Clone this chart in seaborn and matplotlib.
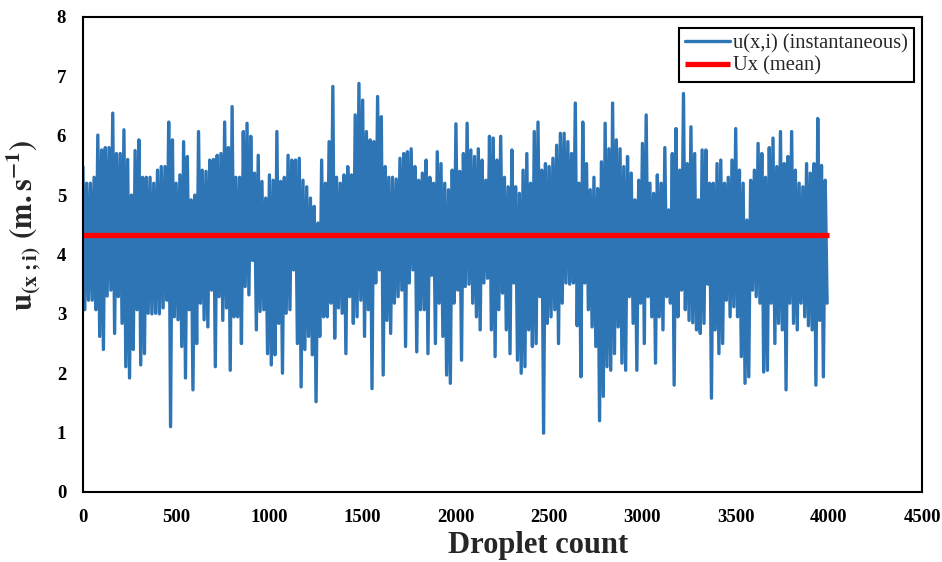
import matplotlib
matplotlib.use("Agg")
import matplotlib.pyplot as plt
from matplotlib.ticker import MultipleLocator
import numpy as np
import pandas as pd
import seaborn as sns

# highest / lowest u(x,i) in each block of 20 droplets (m/s)
u_high = [5.48, 5.2, 5.2, 5.3, 6.01, 5.76, 5.8, 5.8, 6.38, 5.7,
          5.7, 6.1, 5.6, 5.0, 5.75, 5.93, 5.3, 5.3, 5.3, 5.2,
          5.42, 5.48, 5.48, 6.23, 5.93, 5.2, 5.34, 5.9, 5.65, 4.92,
          5.0, 6.07, 5.42, 5.4, 5.59, 5.6, 5.67, 5.7, 6.23, 5.8,
          6.49, 5.3, 5.3, 6.07, 6.21, 5.99, 5.37, 5.67, 5.23, 4.95,
          5.34, 5.25, 6.07, 5.23, 5.3, 5.67, 5.59, 5.59, 5.62, 5.25,
          5.14, 4.95, 4.81, 4.53, 5.59, 5.2, 5.9, 6.83, 5.3, 5.2,
          5.34, 5.48, 5.34, 6.35, 6.88, 6.6, 6.07, 5.93, 5.9, 6.66,
          6.32, 5.48, 5.3, 5.3, 5.27, 5.62, 5.7, 5.73, 5.78, 5.48,
          5.25, 5.37, 5.59, 5.3, 5.2, 5.73, 5.53, 5.2, 5.09, 5.42,
          6.2, 5.4, 5.7, 6.21, 5.76, 5.65, 5.78, 5.59, 5.25, 5.99,
          5.96, 5.59, 5.99, 5.3, 5.14, 5.76, 5.14, 5.03, 5.42, 5.7,
          5.2, 6.07, 6.23, 5.42, 5.53, 5.48, 5.62, 5.84, 6.04, 6.04,
          5.9, 5.7, 6.55, 5.2, 6.23, 5.53, 5.09, 5.3, 5.11, 5.56,
          6.21, 5.78, 6.55, 5.93, 5.78, 5.48, 5.65, 5.37, 4.92, 5.25,
          5.87, 6.35, 5.2, 5.03, 5.34, 5.2, 5.8, 4.75, 5.7, 6.12,
          5.42, 6.71, 5.53, 6.15, 5.7, 4.92, 5.76, 5.76, 5.2, 5.2,
          5.53, 5.59, 5.2, 5.3, 5.59, 6.12, 5.42, 5.2, 4.58, 5.25,
          5.42, 5.87, 5.7, 5.3, 5.8, 5.96, 5.48, 6.07, 5.53, 5.65,
          6.07, 5.42, 5.2, 5.14, 5.53, 5.37, 5.53, 6.29, 5.5, 5.25]

u_low = [3.07, 3.23, 3.23, 3.07, 2.62, 2.4, 3.3, 3.4, 2.67, 3.29,
         2.84, 2.11, 1.92, 2.4, 3.07, 2.14, 2.33, 3.01, 3.0, 3.01,
         3.0, 3.1, 3.23, 1.1, 2.95, 2.9, 2.45, 1.92, 3.07, 1.72,
         2.5, 3.18, 2.9, 2.78, 3.4, 2.11, 3.29, 2.89, 3.1, 2.05,
         2.95, 2.95, 2.5, 3.46, 3.32, 3.9, 2.73, 3.04, 3.07, 2.33,
         2.14, 2.31, 2.84, 2.0, 3.01, 3.07, 3.74, 2.5, 1.77, 2.4,
         2.62, 2.31, 1.52, 2.62, 2.95, 2.95, 3.18, 2.59, 3.1, 3.01,
         2.33, 3.29, 2.84, 2.95, 3.23, 2.62, 3.07, 1.74, 3.52, 3.74,
         1.97, 2.89, 2.67, 3.18, 3.29, 3.4, 2.45, 3.52, 3.74, 2.36,
         3.07, 3.07, 2.33, 3.65, 2.5, 3.18, 2.62, 1.97, 1.83, 3.18,
         3.4, 2.22, 3.46, 3.5, 3.18, 2.95, 2.73, 3.52, 3.6, 2.73,
         2.28, 3.07, 3.35, 2.73, 2.33, 3.52, 2.22, 2.0, 2.11, 2.73,
         2.45, 2.5, 3.29, 0.99, 2.84, 2.95, 3.07, 2.5, 3.18, 3.52,
         3.5, 3.52, 2.8, 1.94, 3.52, 3.07, 2.78, 2.45, 1.2, 1.61,
         2.11, 2.05, 2.33, 2.78, 2.17, 2.05, 3.29, 2.84, 2.05, 3.18,
         2.5, 3.29, 2.95, 2.17, 2.95, 2.73, 3.29, 3.18, 1.8, 2.95,
         3.4, 3.07, 2.89, 2.85, 2.73, 2.67, 2.84, 3.5, 1.58, 2.73,
         2.33, 2.5, 3.23, 2.95, 3.12, 2.95, 2.28, 1.83, 1.94, 3.4,
         3.29, 3.18, 2.02, 2.05, 3.18, 2.5, 2.84, 2.73, 1.72, 3.18,
         2.84, 2.73, 3.18, 2.95, 2.8, 2.73, 1.8, 2.89, 1.94, 3.18]

block_size = 20          # droplets per block
n_droplets = 4000
u_mean = 4.32            # Ux (mean)

# build the trace: block high at the block start, block low half way through
k = np.arange(len(u_high))
df = pd.DataFrame({
    "droplet": np.concatenate([k * block_size, k * block_size + block_size // 2]),
    "u": np.concatenate([u_high, u_low]),
}).sort_values("droplet")
df_mean = pd.DataFrame({"droplet": [0, n_droplets], "u": [u_mean, u_mean]})

sns.set_style("white")
plt.rcParams["font.family"] = ["Liberation Serif", "DejaVu Serif"]
plt.rcParams["mathtext.fontset"] = "stix"

fig, ax = plt.subplots(figsize=(9.42, 5.62), dpi=100)
fig.subplots_adjust(left=0.088, right=0.979, bottom=0.1246, top=0.9698)

sns.lineplot(data=df, x="droplet", y="u", ax=ax, color="#2E75B6", lw=2.4,
             label="u(x,i) (instantaneous)")
sns.lineplot(data=df_mean, x="droplet", y="u", ax=ax, color="#FF0000", lw=3.8,
             label="Ux (mean)", solid_capstyle="butt")

ax.set_xlim(0, 4500)
ax.set_ylim(0, 8)
ax.xaxis.set_major_locator(MultipleLocator(500))
ax.xaxis.set_minor_locator(MultipleLocator(100))
ax.yaxis.set_major_locator(MultipleLocator(1))
ax.yaxis.set_minor_locator(MultipleLocator(0.2))
ax.tick_params(which="major", direction="in", length=6, width=1.5,
               labelsize=13.5, colors="black")
ax.tick_params(which="minor", direction="in", length=3, width=1.2)
ax.tick_params(axis="x", pad=12)
ax.tick_params(axis="y", pad=12)
for lab in ax.get_xticklabels() + ax.get_yticklabels():
    lab.set_fontweight("bold")
for sp in ax.spines.values():
    sp.set_color("black")
    sp.set_linewidth(1.5)

ax.set_xlabel("Droplet count", fontsize=22, fontweight="bold")
ax.xaxis.set_label_coords(0.542, -0.083)
ax.set_ylabel(r"$\mathbf{u_{(x\ ;i)}\ (m.s^{-1})}$", fontsize=22)
ax.yaxis.set_label_coords(-0.048, 0.562)

leg = ax.legend(loc="upper right", bbox_to_anchor=(0.9905, 0.977),
                borderaxespad=0, fontsize=14.8, frameon=True, fancybox=False,
                framealpha=1, edgecolor="black", handlelength=2.2,
                handletextpad=0.15, labelspacing=0.15, borderpad=0.3)
leg.get_frame().set_linewidth(1.5)

fig.savefig("out.png", dpi=100)
plt.close(fig)
